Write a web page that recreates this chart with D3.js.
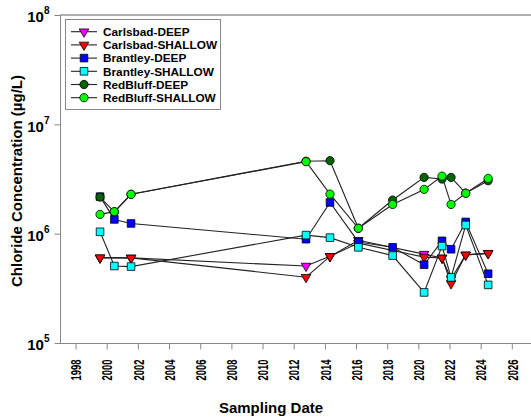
<!DOCTYPE html>
<html>
<head>
<meta charset="utf-8">
<script src="https://cdn.jsdelivr.net/npm/d3@7/dist/d3.min.js"></script>
<style>
  body { margin: 0; background: #fff; }
  text { font-family: "Liberation Sans", Arial, sans-serif; font-weight: bold; }
</style>
</head>
<body>
<div id="app"></div>
<script>
// sampling dates (decimal years) and chloride values in ug/L
var datesAll = [1999.57, 2000.49, 2001.56, 2012.79, 2014.33, 2016.15, 2018.35, 2020.37, 2021.52, 2022.1, 2023.04, 2024.48];
var datesCarlsbad = [1999.57, 2001.56, 2012.79, 2014.33, 2016.15, 2020.37, 2021.52, 2022.1, 2023.04, 2024.48];

var carlsbadDeep = [600000, 600000, 506000, 620000, 870000, 650000, 600000, 385000, 640000, 660000];
var carlsbadShallow = [604000, 600000, 400000, 620000, 820000, 610000, 600000, 350000, 640000, 660000];
var brantleyDeep = [2180000, 1350000, 1240000, 890000, 1930000, 840000, 750000, 520000, 860000, 720000, 1280000, 430000];
var brantleyShallow = [1040000, 506000, 500000, 970000, 920000, 750000, 630000, 290000, 770000, 398000, 1200000, 340000];
var redBluffDeep = [2160000, 1580000, 2290000, 4600000, 4650000, 1120000, 2030000, 3270000, 3160000, 3270000, 2350000, 3050000];
var redBluffShallow = [1500000, 1590000, 2290000, 4550000, 2300000, 1120000, 1850000, 2540000, 3360000, 1850000, 2340000, 3200000];

var seriesNames = ['Carlsbad-DEEP', 'Carlsbad-SHALLOW', 'Brantley-DEEP', 'Brantley-SHALLOW', 'RedBluff-DEEP', 'RedBluff-SHALLOW'];
var yearTicks = d3.range(1998, 2027, 2);
var concTicks = [1e5, 1e6, 1e7, 1e8];

var width = 531,
    height = 419,
    plotLeft = 60,
    plotTop = 15,
    plotBottom = 343;

var series = [
    { name: seriesNames[0], dates: datesCarlsbad, values: carlsbadDeep, shape: 'tri', fill: '#ff00ff' },
    { name: seriesNames[1], dates: datesCarlsbad, values: carlsbadShallow, shape: 'tri', fill: '#ff0000' },
    { name: seriesNames[2], dates: datesAll, values: brantleyDeep, shape: 'sq', fill: '#0000ff' },
    { name: seriesNames[3], dates: datesAll, values: brantleyShallow, shape: 'sq', fill: '#00ffff' },
    { name: seriesNames[4], dates: datesAll, values: redBluffDeep, shape: 'circ', fill: '#006400' },
    { name: seriesNames[5], dates: datesAll, values: redBluffShallow, shape: 'circ', fill: '#00ff00' }
];

var svg = d3.select('#app')
    .append('svg')
    .attr('width', width)
    .attr('height', height);

var xScale = d3.scaleLinear().domain([1997, 2027]).range([plotLeft, 527.4]);
var yScale = d3.scaleLog().domain([1e5, 1e8]).range([plotBottom, plotTop]);

function symbolPath(shape) {
    if (shape === 'tri') return d3.symbol().type(d3.symbolTriangle).size(40)();
    if (shape === 'sq') return d3.symbol().type(d3.symbolSquare).size(58)();
    return d3.symbol().type(d3.symbolCircle).size(54)();
}

function addMarker(g, s, x, y) {
    g.append('path')
        .attr('d', symbolPath(s.shape))
        .attr('transform', 'translate(' + x + ',' + y + ')' + (s.shape === 'tri' ? ' rotate(180)' : ''))
        .attr('fill', s.fill)
        .attr('stroke', '#000')
        .attr('stroke-width', 0.8);
}

// frame
svg.append('line').attr('x1', plotLeft).attr('x2', width).attr('y1', plotTop).attr('y2', plotTop)
    .attr('stroke', '#999').attr('stroke-width', 1.5);
svg.append('line').attr('x1', plotLeft + 0.5).attr('x2', plotLeft + 0.5).attr('y1', plotTop).attr('y2', plotBottom)
    .attr('stroke', '#888');
svg.append('line').attr('x1', plotLeft).attr('x2', width).attr('y1', plotBottom + 0.5).attr('y2', plotBottom + 0.5)
    .attr('stroke', '#888');

// x axis
var xAxis = d3.axisBottom(xScale).tickValues(yearTicks).tickSize(6).tickSizeOuter(0).tickFormat(d3.format('d'));
var gx = svg.append('g')
    .attr('transform', 'translate(0,' + (plotBottom + 0.5) + ')')
    .call(xAxis);
gx.select('.domain').remove();
gx.selectAll('line').attr('stroke', '#888');
gx.selectAll('text')
    .attr('transform', 'translate(0,16) rotate(-90)')
    .attr('x', 0)
    .attr('y', 0)
    .attr('dy', '0.36em')
    .attr('text-anchor', 'end')
    .attr('font-size', 14.5)
    .attr('fill', '#000')
    .attr('textLength', 21)
    .attr('lengthAdjust', 'spacingAndGlyphs');

// y axis
var yAxis = d3.axisLeft(yScale).tickValues(concTicks).tickSize(6).tickSizeOuter(0).tickPadding(5).tickFormat('');
var gy = svg.append('g')
    .attr('transform', 'translate(' + (plotLeft + 0.5) + ',0)')
    .call(yAxis);
gy.select('.domain').remove();
gy.selectAll('line').attr('stroke', '#888');
gy.selectAll('.tick text')
    .attr('font-size', 15)
    .attr('fill', '#000')
    .attr('dy', '0.45em')
    .each(function (d) {
        var t = d3.select(this);
        t.append('tspan').text('10');
        t.append('tspan').attr('font-size', 10).attr('dy', '-0.8em').text(Math.round(Math.log10(d)));
    });

// lines then markers
var line = d3.line()
    .x(function (d) { return xScale(d[0]); })
    .y(function (d) { return yScale(d[1]); });

var plot = svg.append('g');
series.forEach(function (s) {
    var pts = s.dates.map(function (d, i) { return [d, s.values[i]]; });
    plot.append('path')
        .attr('d', line(pts))
        .attr('fill', 'none')
        .attr('stroke', '#222')
        .attr('stroke-width', 1.1);
    pts.forEach(function (p) {
        addMarker(plot, s, xScale(p[0]), yScale(p[1]));
    });
});

// legend
var legend = svg.append('g');
legend.append('rect')
    .attr('x', 65.5).attr('y', 19.5).attr('width', 155).attr('height', 90)
    .attr('fill', '#fff').attr('stroke', '#888');
series.forEach(function (s, i) {
    var y = 31.7 + i * 13.2;
    legend.append('line').attr('x1', 71).attr('x2', 97).attr('y1', y).attr('y2', y)
        .attr('stroke', '#222').attr('stroke-width', 1.1);
    addMarker(legend, s, 84, y);
    legend.append('text')
        .attr('x', 103).attr('y', y).attr('dy', '0.36em')
        .attr('font-size', 11.8)
        .text(s.name);
});

// axis titles
svg.append('text')
    .attr('x', 271).attr('y', 413)
    .attr('text-anchor', 'middle')
    .attr('font-size', 15)
    .text('Sampling Date');

svg.append('text')
    .attr('transform', 'translate(22,181) rotate(-90)')
    .attr('text-anchor', 'middle')
    .attr('font-size', 15)
    .text('Chloride Concentration (µg/L)');
</script>
</body>
</html>
